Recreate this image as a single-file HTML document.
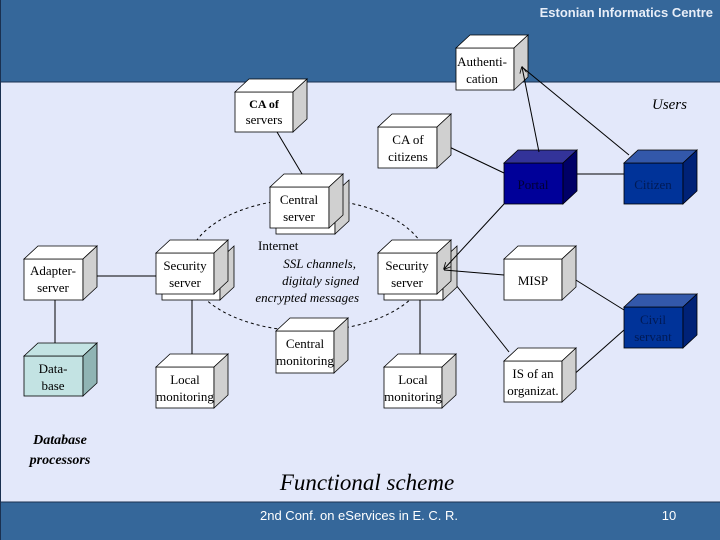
<!DOCTYPE html>
<html><head><meta charset="utf-8"><style>
html,body{margin:0;padding:0;}
body{width:720px;height:540px;overflow:hidden;background:#e3e8fa;}
svg{display:block;}
.t{font-family:"Liberation Serif",serif;font-size:13px;fill:#000;}
</style></head><body>
<svg width="720" height="540" viewBox="0 0 720 540" xmlns="http://www.w3.org/2000/svg">
<defs>
<marker id="ar" viewBox="0 0 10 10" refX="9" refY="5" markerWidth="7" markerHeight="7" orient="auto-start-reverse">
<path d="M0,0 L10,5 L0,10" fill="none" stroke="#000" stroke-width="1.2"/>
</marker>
</defs>
<rect x="0" y="0" width="720" height="540" fill="#e3e8fa"/>
<rect x="0" y="0" width="720" height="82" fill="#35679a"/>
<line x1="0" y1="82" x2="720" y2="82" stroke="#1a3050" stroke-width="1"/>
<rect x="0" y="502" width="720" height="38" fill="#35679a"/>
<line x1="0" y1="502" x2="720" y2="502" stroke="#1a3050" stroke-width="1"/>
<line x1="0.5" y1="0" x2="0.5" y2="540" stroke="#1a3050"/>
<text x="713" y="17" text-anchor="end" font-family="Liberation Sans,sans-serif" font-size="13" font-weight="bold" fill="#e8eef8">Estonian Informatics Centre</text>

<ellipse cx="308" cy="265" rx="120" ry="66" fill="none" stroke="#000" stroke-dasharray="3,3"/>

<g stroke="#000" stroke-width="1" fill="none">
<line x1="277" y1="132" x2="305" y2="179"/>
<line x1="443" y1="144" x2="504" y2="173"/>
<line x1="562" y1="174" x2="624" y2="174"/>
<line x1="452" y1="280" x2="509" y2="352"/>
<line x1="571" y1="277" x2="624" y2="310"/>
<line x1="571" y1="377" x2="624" y2="330"/>
<line x1="83" y1="276" x2="156" y2="276"/>
<line x1="55" y1="300" x2="55" y2="356"/>
<line x1="192" y1="300" x2="192" y2="367"/>
<line x1="420" y1="300" x2="420" y2="367"/>
</g>

<g stroke="#000" stroke-width="0.8">
<g fill="#fff"><rect x="276" y="193" width="59" height="41"/><path d="M335,193 l14,-13 v41 l-14,13z" fill="#d0d0d0"/></g>
<g fill="#fff"><rect x="162" y="259" width="58" height="41"/><path d="M220,259 l14,-13 v41 l-14,13z" fill="#d0d0d0"/></g>
<g fill="#fff"><rect x="384" y="259" width="59" height="41"/><path d="M443,259 l14,-13 v41 l-14,13z" fill="#d0d0d0"/></g>
</g>

<g stroke="#000" stroke-width="0.8">
<g><rect x="456" y="48" width="58" height="42" fill="#fff"/><path d="M456,48 l14,-13 h58 l-14,13z" fill="#fff"/><path d="M514,48 l14,-13 v42 l-14,13z" fill="#d0d0d0"/></g>
<g><rect x="235" y="92" width="58" height="40" fill="#fff"/><path d="M235,92 l14,-13 h58 l-14,13z" fill="#fff"/><path d="M293,92 l14,-13 v40 l-14,13z" fill="#d0d0d0"/></g>
<g><rect x="378" y="127" width="59" height="41" fill="#fff"/><path d="M378,127 l14,-13 h59 l-14,13z" fill="#fff"/><path d="M437,127 l14,-13 v41 l-14,13z" fill="#d0d0d0"/></g>
<g><rect x="270" y="187" width="59" height="41" fill="#fff"/><path d="M270,187 l14,-13 h59 l-14,13z" fill="#fff"/><path d="M329,187 l14,-13 v41 l-14,13z" fill="#d0d0d0"/></g>
<g><rect x="24" y="259" width="59" height="41" fill="#fff"/><path d="M24,259 l14,-13 h59 l-14,13z" fill="#fff"/><path d="M83,259 l14,-13 v41 l-14,13z" fill="#d0d0d0"/></g>
<g><rect x="156" y="253" width="58" height="41" fill="#fff"/><path d="M156,253 l14,-13 h58 l-14,13z" fill="#fff"/><path d="M214,253 l14,-13 v41 l-14,13z" fill="#d0d0d0"/></g>
<g><rect x="378" y="253" width="59" height="41" fill="#fff"/><path d="M378,253 l14,-13 h59 l-14,13z" fill="#fff"/><path d="M437,253 l14,-13 v41 l-14,13z" fill="#d0d0d0"/></g>
<g><rect x="504" y="259" width="58" height="41" fill="#fff"/><path d="M504,259 l14,-13 h58 l-14,13z" fill="#fff"/><path d="M562,259 l14,-13 v41 l-14,13z" fill="#d0d0d0"/></g>
<g><rect x="156" y="367" width="58" height="41" fill="#fff"/><path d="M156,367 l14,-13 h58 l-14,13z" fill="#fff"/><path d="M214,367 l14,-13 v41 l-14,13z" fill="#d0d0d0"/></g>
<g><rect x="276" y="331" width="58" height="42" fill="#fff"/><path d="M276,331 l14,-13 h58 l-14,13z" fill="#fff"/><path d="M334,331 l14,-13 v42 l-14,13z" fill="#d0d0d0"/></g>
<g><rect x="384" y="367" width="58" height="41" fill="#fff"/><path d="M384,367 l14,-13 h58 l-14,13z" fill="#fff"/><path d="M442,367 l14,-13 v41 l-14,13z" fill="#d0d0d0"/></g>
<g><rect x="504" y="361" width="58" height="41" fill="#fff"/><path d="M504,361 l14,-13 h58 l-14,13z" fill="#fff"/><path d="M562,361 l14,-13 v41 l-14,13z" fill="#d0d0d0"/></g>
<g><rect x="24" y="356" width="59" height="40" fill="#c3e3e3"/><path d="M24,356 l14,-13 h59 l-14,13z" fill="#c3e3e3"/><path d="M83,356 l14,-13 v40 l-14,13z" fill="#90b4b4"/></g>
<g><rect x="504" y="163" width="59" height="41" fill="#000099"/><path d="M504,163 l14,-13 h59 l-14,13z" fill="#333399"/><path d="M563,163 l14,-13 v41 l-14,13z" fill="#000066"/></g>
<g><rect x="624" y="163" width="59" height="41" fill="#003399"/><path d="M624,163 l14,-13 h59 l-14,13z" fill="#3358aa"/><path d="M683,163 l14,-13 v41 l-14,13z" fill="#002277"/></g>
<g><rect x="624" y="307" width="59" height="41" fill="#003399"/><path d="M624,307 l14,-13 h59 l-14,13z" fill="#3358aa"/><path d="M683,307 l14,-13 v41 l-14,13z" fill="#002277"/></g>
</g>

<g stroke="#000" stroke-width="1" fill="none">
<line x1="539" y1="152" x2="522" y2="67" marker-end="url(#ar)"/>
<line x1="629" y1="155" x2="522" y2="67"/>
<line x1="504" y1="204" x2="444" y2="269" marker-end="url(#ar)"/>
<line x1="504" y1="275" x2="444" y2="270"/>
</g>

<g class="t" text-anchor="middle">
<text x="482" y="66">Authenti-</text><text x="482" y="83">cation</text>
<text x="264" y="108" font-weight="bold" style="font-size:12px">CA of</text><text x="264" y="124">servers</text>
<text x="408" y="144">CA of</text><text x="408" y="161">citizens</text>
<text x="533" y="189" fill="#000033">Portal</text>
<text x="653" y="189" fill="#001a55">Citizen</text>
<text x="299" y="204">Central</text><text x="299" y="221">server</text>
<text x="53" y="275">Adapter-</text><text x="53" y="292">server</text>
<text x="185" y="270">Security</text><text x="185" y="287">server</text>
<text x="407" y="270">Security</text><text x="407" y="287">server</text>
<text x="533" y="285">MISP</text>
<text x="653" y="324" fill="#001a55">Civil</text><text x="653" y="341" fill="#001a55">servant</text>
<text x="53" y="373">Data-</text><text x="53" y="390">base</text>
<text x="185" y="384">Local</text><text x="185" y="401">monitoring</text>
<text x="305" y="348">Central</text><text x="305" y="365">monitoring</text>
<text x="413" y="384">Local</text><text x="413" y="401">monitoring</text>
<text x="533" y="378">IS of an</text><text x="533" y="395">organizat.</text>
</g>
<text class="t" x="258" y="250">Internet</text>
<g class="t" font-style="italic" text-anchor="end">
<text x="356" y="268">SSL channels,</text>
<text x="359" y="285">digitaly signed</text>
<text x="359" y="302">encrypted messages</text>
</g>
<text class="t" x="687" y="109" text-anchor="end" font-style="italic" style="font-size:15px">Users</text>
<text class="t" x="60" y="444" text-anchor="middle" font-style="italic" font-weight="bold" style="font-size:14px">Database</text>
<text class="t" x="60" y="464" text-anchor="middle" font-style="italic" font-weight="bold" style="font-size:14px">processors</text>
<text class="t" x="367" y="490" text-anchor="middle" font-style="italic" style="font-size:23px">Functional scheme</text>
<text x="359" y="520" text-anchor="middle" font-family="Liberation Sans,sans-serif" font-size="13" fill="#fff">2nd Conf. on eServices in E. C. R.</text>
<text x="669" y="520" text-anchor="middle" font-family="Liberation Sans,sans-serif" font-size="13" fill="#fff">10</text>
</svg>
</body></html>
